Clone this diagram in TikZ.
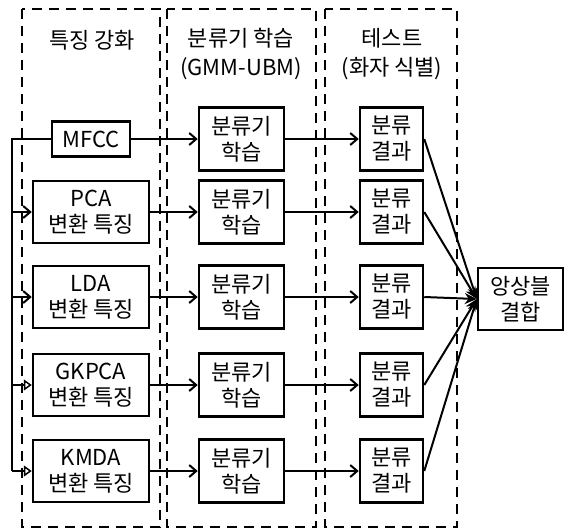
\documentclass[tikz,border=0pt]{standalone}
\usepackage{fontspec}
\setmainfont{Noto Sans CJK KR}
\usetikzlibrary{arrows.meta}
\begin{document}
\begin{tikzpicture}[x=1pt,y=-1pt,
  box/.style={draw, line width=2.5pt, inner sep=0pt, align=center,
    font=\fontsize{22}{26}\selectfont},
  feat/.style={box, minimum width=116pt, minimum height=62pt},
  clf/.style={box, minimum width=85pt, minimum height=63pt},
  res/.style={box, minimum width=63pt, minimum height=63pt},
  head/.style={align=center, inner sep=0pt, font=\fontsize{22}{29}\selectfont},
  frame/.style={dashed, line width=2.5pt, dash pattern=on 10pt off 7pt},
  conn/.style={line width=2pt},
  arr/.style={conn, -{Straight Barb[length=7pt,width=12pt,line width=2pt]}},
  arrt/.style={conn, -{Triangle[open,length=8pt,width=11pt,line width=1.5pt]}},
  arrf/.style={conn, -{Stealth[length=12pt,width=11pt]}}]
\useasboundingbox (0,0) rectangle (569,531);
% dashed frames
\draw[frame] (22,9) rectangle (160,527);
\draw[frame] (167,9) rectangle (316,527);
\draw[frame] (325,9) rectangle (457,527);
% headers
\node[head] (h1) at (92,40) {특징 강화};
\node[head] (h2) at (241,54) {분류기 학습\\(GMM-UBM)};
\node[head] (h3) at (392,54) {테스트\\(화자 식별)};
% feature boxes
\node[box, minimum width=78pt, minimum height=35pt] (f1) at (91,139) {MFCC};
\node[feat] (f2) at (91,212) {PCA\\변환 특징};
\node[feat] (f3) at (91,297) {LDA\\변환 특징};
\node[feat] (f4) at (91,385) {GKPCA\\변환 특징};
\node[feat] (f5) at (91,471) {KMDA\\변환 특징};
% classifier and result boxes
\foreach \i/\y in {1/139,2/212,3/297,4/385,5/471}{
  \node[clf] (c\i) at (241.5,\y) {분류기\\학습};
  \node[res] (r\i) at (391.5,\y) {분류\\결과};
}
\node[box, minimum width=85pt, minimum height=62pt] (comb) at (520.5,299) {앙상블\\결합};
% bus
\coordinate (b1) at (12,139);
\coordinate (b2) at (12,212);
\coordinate (b3) at (12,297);
\coordinate (b4) at (12,385);
\coordinate (b5) at (12,471);
\draw[conn] (f1.west) -- (b1) -- (b5);
\draw[arr] (b2) -- (f2.west);
\draw[arr] (b3) -- (f3.west);
\draw[arrt] (b4) -- (f4.west);
\draw[arrt] (b5) -- (f5.west);
\foreach \i in {1,...,5}{
  \draw[arr] (f\i.east) -- (c\i.west);
  \draw[arr] (c\i.east) -- (r\i.west);
  \draw[arrf] (r\i.east) -- (comb.west);
}
\end{tikzpicture}
\end{document}
